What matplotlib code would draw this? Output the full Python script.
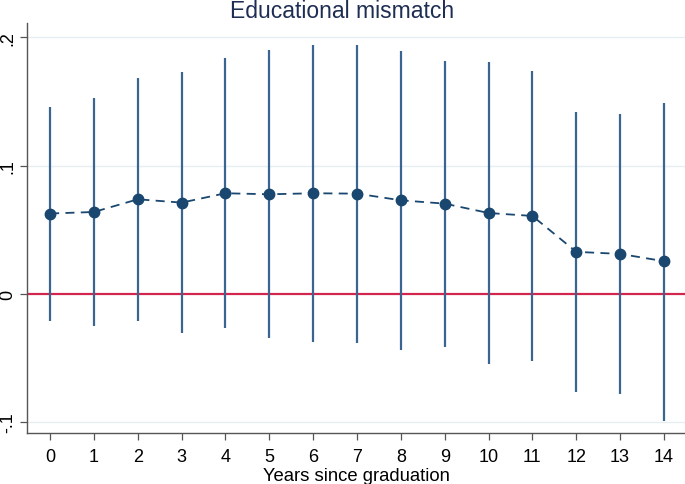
import matplotlib.pyplot as plt
import numpy as np

plt.rcParams["font.family"] = ["Liberation Sans", "DejaVu Sans"]

years = list(range(15))
coef = [0.0626, 0.0638, 0.0737, 0.0711, 0.0784, 0.0776, 0.0784, 0.0781,
        0.0729, 0.0703, 0.0630, 0.0607, 0.0327, 0.0311, 0.0254]
ci_hi = [0.1458, 0.1528, 0.1684, 0.1732, 0.1840, 0.1902, 0.1943, 0.1943,
         0.1894, 0.1815, 0.1807, 0.1739, 0.1419, 0.1404, 0.1490]
ci_lo = [-0.0210, -0.0254, -0.0215, -0.0303, -0.0267, -0.0347, -0.0378, -0.0384,
         -0.0436, -0.0412, -0.0545, -0.0521, -0.0767, -0.0778, -0.0991]
yticks = [-0.1, 0, 0.1, 0.2]
ytick_labels = ["-.1", "0", ".1", ".2"]

navy = "#1a476f"
spike = "#3b6591"

fig = plt.figure(figsize=(6.85, 4.85), dpi=100)
ax = fig.add_axes([27.3 / 685, 1 - 434 / 485, 1 - 27.3 / 685, (434 - 24) / 485])

ax.set_xlim(-0.52, 14.48)
ax.set_ylim(-0.1086, 0.2112)

for y in yticks:
    if y != 0:
        ax.axhline(y, color="#e6eef2", lw=1.0, zorder=0)
ax.axhline(0, color="#d3264f", lw=1.6, zorder=1)

ax.vlines(years, ci_lo, ci_hi, color=spike, lw=1.6, zorder=2)
ax.plot(years, coef, color=navy, lw=1.3, ls=(0, (5, 3.5)), marker="o",
        ms=7.5, mfc=navy, mec=navy, zorder=3)

ax.set_xticks(years)
ax.set_xticklabels([str(y) for y in years], fontsize=13)
ax.set_yticks(yticks)
ax.set_yticklabels(ytick_labels, fontsize=13, rotation=90, va="center")
ax.tick_params(axis="both", direction="out", length=5, width=0.9, color="#555555")
ax.tick_params(axis="x", pad=6)
ax.tick_params(axis="y", pad=3)

for s in ["top", "right"]:
    ax.spines[s].set_visible(False)
for s in ["left", "bottom"]:
    ax.spines[s].set_color("#555555")
    ax.spines[s].set_linewidth(1.0)

ax.set_xlabel("Years since graduation", fontsize=13.3, labelpad=1)
fig.text(0.5, 1 - 12 / 485, "Educational mismatch", ha="center", va="center",
         fontsize=16.5, color="#1e2d53")

fig.savefig("out.png", dpi=100)
